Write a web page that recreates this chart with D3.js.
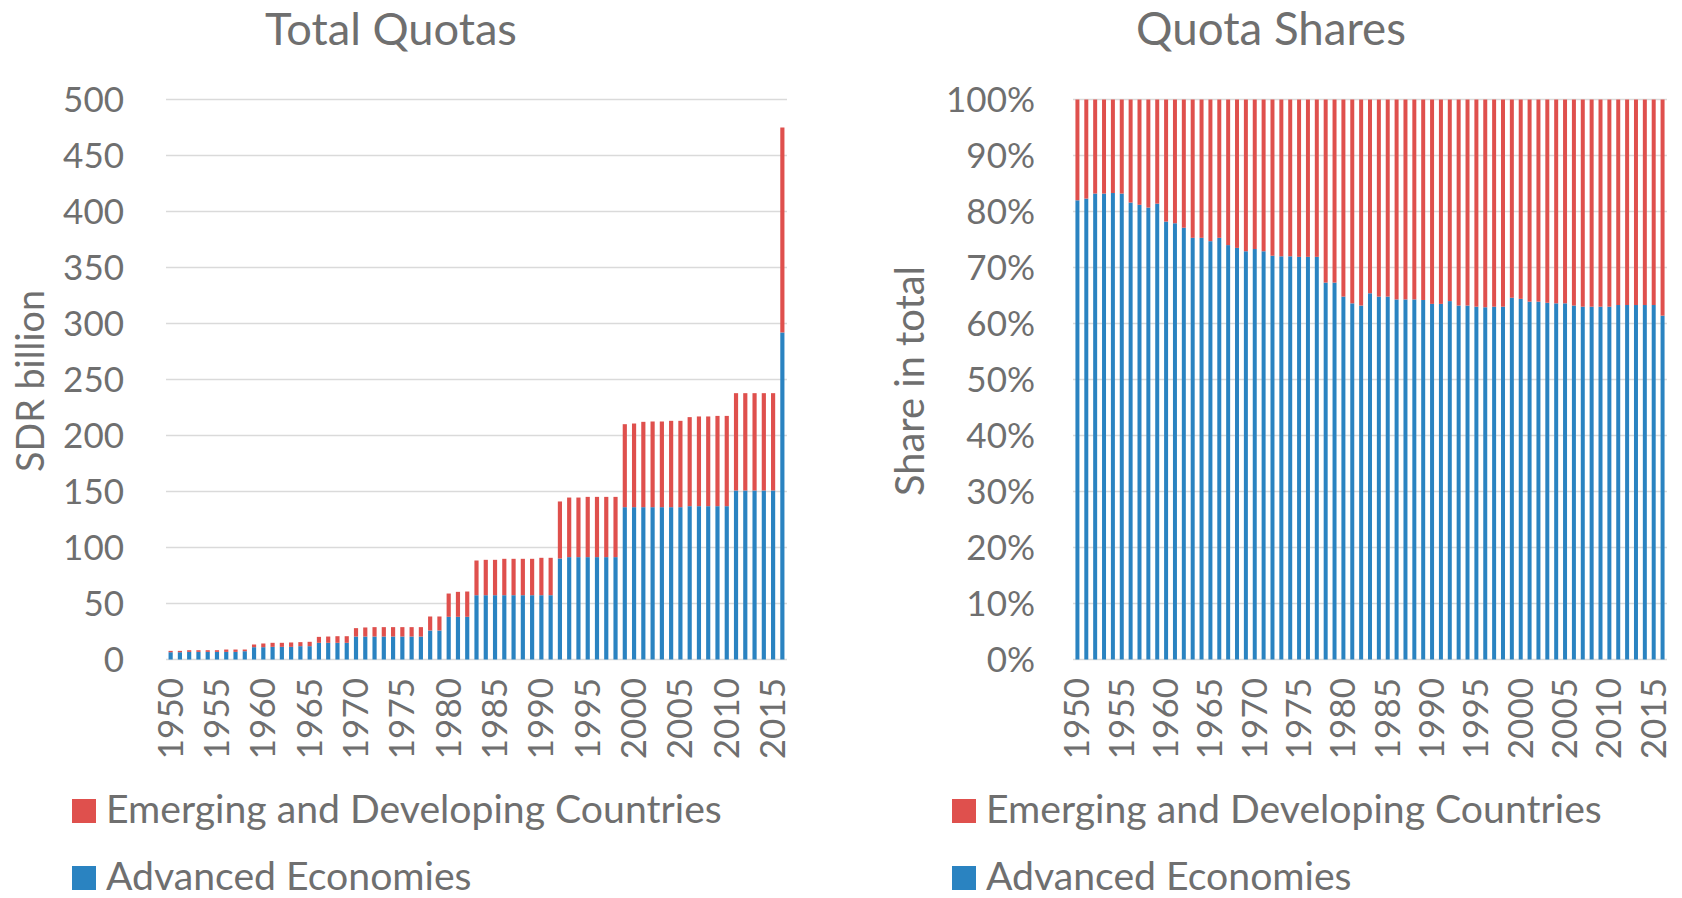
<!DOCTYPE html>
<html lang="en">
<head>
    <meta charset="UTF-8">
    <title>IMF Quotas</title>
    <script src="https://cdnjs.cloudflare.com/ajax/libs/d3/7.8.5/d3.min.js"></script>
    <style>
        body { margin: 0; background: #fff; }
        svg { display: block; font-family: Lato, "Open Sans", sans-serif; }
    </style>
</head>
<body>
    <script>
        // ---- data ----
        const years = [1950, 1951, 1952, 1953, 1954, 1955, 1956, 1957, 1958, 1959,
            1960, 1961, 1962, 1963, 1964, 1965, 1966, 1967, 1968, 1969,
            1970, 1971, 1972, 1973, 1974, 1975, 1976, 1977, 1978, 1979,
            1980, 1981, 1982, 1983, 1984, 1985, 1986, 1987, 1988, 1989,
            1990, 1991, 1992, 1993, 1994, 1995, 1996, 1997, 1998, 1999,
            2000, 2001, 2002, 2003, 2004, 2005, 2006, 2007, 2008, 2009,
            2010, 2011, 2012, 2013, 2014, 2015, 2016];

        // SDR billion
        const advancedQuota = [6.5, 6.5, 6.8, 6.8, 6.8, 6.8, 6.8, 6.8, 7.4, 11.0,
            11.0, 11.3, 11.3, 11.3, 11.9, 11.9, 14.9, 14.9, 14.9, 14.9,
            20.5, 20.5, 20.5, 20.5, 20.5, 20.5, 20.5, 20.5, 25.9, 25.9,
            38.1, 38.1, 38.1, 57.4, 57.4, 57.4, 57.4, 57.4, 57.4, 57.4,
            57.4, 57.4, 90.2, 91.4, 91.4, 91.4, 91.4, 91.4, 91.4, 136.0,
            136.0, 136.0, 136.0, 136.0, 136.0, 136.0, 136.9, 136.9, 136.9, 136.9,
            136.9, 150.9, 150.9, 150.9, 150.9, 150.9, 292];
        const emergingQuota = [1.2, 1.2, 1.5, 1.5, 1.5, 1.5, 2.1, 2.1, 1.5, 2.4,
            3.3, 3.6, 3.6, 3.9, 3.6, 3.9, 5.3, 5.6, 5.9, 5.9,
            7.5, 8.1, 8.4, 8.4, 8.4, 8.4, 8.4, 8.4, 12.5, 12.5,
            20.8, 22.3, 22.6, 31.0, 31.6, 31.6, 32.5, 32.5, 32.5, 32.5,
            33.4, 33.4, 50.9, 53.2, 53.2, 53.8, 53.8, 53.8, 53.8, 74.1,
            74.7, 76.2, 76.5, 76.5, 77.1, 77.1, 79.5, 80.1, 80.1, 80.6,
            80.6, 86.9, 86.9, 86.9, 86.9, 86.9, 183];

        // share of advanced economies in total, %
        const advancedShare = [82.0, 82.3, 83.2, 83.2, 83.3, 83.2, 81.6, 81.2, 80.7, 81.4,
            78.2, 77.9, 77.1, 75.3, 75.3, 74.7, 75.3, 74.0, 73.5, 72.9,
            73.3, 72.9, 72.1, 72.0, 72.0, 71.9, 71.9, 71.9, 67.3, 67.3,
            64.8, 63.6, 63.2, 65.4, 64.8, 64.8, 64.3, 64.3, 64.3, 64.2,
            63.5, 63.5, 64.0, 63.2, 63.2, 63.0, 62.9, 63.0, 63.0, 64.6,
            64.4, 63.9, 63.9, 63.7, 63.6, 63.6, 63.2, 63.0, 63.0, 63.0,
            63.0, 63.3, 63.3, 63.3, 63.3, 63.3, 61.4];
        const emergingShare = advancedShare.map(d => 100 - d);

        const yearTicks = [1950, 1955, 1960, 1965, 1970, 1975, 1980, 1985, 1990, 1995, 2000, 2005, 2010, 2015];
        const quotaTicks = [0, 50, 100, 150, 200, 250, 300, 350, 400, 450, 500];
        const shareTicks = [0, 10, 20, 30, 40, 50, 60, 70, 80, 90, 100];

        const seriesNames = ["Emerging and Developing Countries", "Advanced Economies"];
        const colors = { adv: "#2a83c1", emg: "#df504d" };
        const textColor = "#6f6f6f";
        const gridColor = "#dadada";

        // ---- layout ----
        const W = 1682, H = 898;
        const plotTop = 99.5, plotBottom = 659.5;

        const svg = d3.select("body").append("svg")
            .attr("width", W)
            .attr("height", H);

        // shrink/grow a text element until it is a given width
        function fitWidth(text, width) {
            const len = text.node().getComputedTextLength();
            const fs = parseFloat(text.attr("font-size"));
            text.attr("font-size", fs * width / len);
            return fs * width / len;
        }

        function panel(cfg) {
            const g = svg.append("g");

            const x = d3.scaleBand()
                .domain(years)
                .range([cfg.x0, cfg.x1])
                .paddingInner(0.55)
                .paddingOuter(0.275);

            const y = d3.scaleLinear()
                .domain([0, cfg.max])
                .range([plotBottom, plotTop]);

            // gridlines
            g.append("g")
                .selectAll("line")
                .data(cfg.ticks)
                .enter()
                .append("line")
                .attr("x1", cfg.x0)
                .attr("x2", cfg.x1)
                .attr("y1", d => y(d))
                .attr("y2", d => y(d))
                .attr("stroke", gridColor)
                .attr("stroke-width", 1.6);

            // y tick labels
            g.append("g")
                .selectAll("text")
                .data(cfg.ticks)
                .enter()
                .append("text")
                .attr("x", cfg.labelRight)
                .attr("y", d => y(d) + 12.4)
                .attr("text-anchor", "end")
                .attr("font-size", 35)
                .attr("fill", textColor)
                .text(cfg.fmt);

            // stacked bars
            const rows = years.map((yr, i) => ({ year: yr, adv: cfg.adv[i], emg: cfg.emg[i] }));
            const stack = d3.stack().keys(["adv", "emg"])(rows);

            g.append("g")
                .selectAll("g")
                .data(stack)
                .enter()
                .append("g")
                .attr("fill", d => colors[d.key])
                .selectAll("rect")
                .data(d => d)
                .enter()
                .append("rect")
                .attr("x", d => x(d.data.year))
                .attr("width", x.bandwidth())
                .attr("y", d => y(d[1]))
                .attr("height", d => y(d[0]) - y(d[1]));

            // x tick labels, rotated
            g.append("g")
                .selectAll("text")
                .data(yearTicks)
                .enter()
                .append("text")
                .attr("transform", d => `translate(${x(d) + x.bandwidth() / 2 + 12},678) rotate(-90)`)
                .attr("text-anchor", "end")
                .attr("font-size", 35)
                .attr("fill", textColor)
                .text(d => d);

            // title
            const title = g.append("text")
                .attr("x", cfg.titleX)
                .attr("y", 44.5)
                .attr("text-anchor", "middle")
                .attr("font-size", 44)
                .attr("fill", textColor)
                .text(cfg.title);
            fitWidth(title, cfg.titleW);

            // y axis title
            const yt = g.append("text")
                .attr("transform", `translate(${cfg.axisX},381) rotate(-90)`)
                .attr("text-anchor", "middle")
                .attr("font-size", 36)
                .attr("fill", textColor)
                .text(cfg.yLabel);
            fitWidth(yt, cfg.axisW);

            // legend
            const leg = g.append("g");
            const items = [
                { name: seriesNames[0], color: colors.emg, y: 799 },
                { name: seriesNames[1], color: colors.adv, y: 866 }
            ];
            leg.selectAll("rect")
                .data(items)
                .enter()
                .append("rect")
                .attr("x", cfg.legX)
                .attr("y", d => d.y)
                .attr("width", 24)
                .attr("height", 24)
                .attr("fill", d => d.color);

            const labels = leg.selectAll("text")
                .data(items)
                .enter()
                .append("text")
                .attr("x", cfg.legX + 34)
                .attr("y", d => d.y + 24)
                .attr("font-size", 36)
                .attr("fill", textColor)
                .text(d => d.name);
            const fs = fitWidth(d3.select(labels.nodes()[0]), 616);
            labels.attr("font-size", fs);
        }

        panel({
            x0: 166, x1: 787, max: 500, ticks: quotaTicks,
            adv: advancedQuota, emg: emergingQuota,
            fmt: d => d, labelRight: 124,
            title: "Total Quotas", titleX: 391, titleW: 252,
            yLabel: "SDR billion", axisX: 44, axisW: 182,
            legX: 72
        });

        panel({
            x0: 1073, x1: 1667, max: 100, ticks: shareTicks,
            adv: advancedShare, emg: emergingShare,
            fmt: d => d + "%", labelRight: 1035,
            title: "Quota Shares", titleX: 1271, titleW: 270,
            yLabel: "Share in total", axisX: 924, axisW: 230,
            legX: 952
        });
    </script>
</body>
</html>
